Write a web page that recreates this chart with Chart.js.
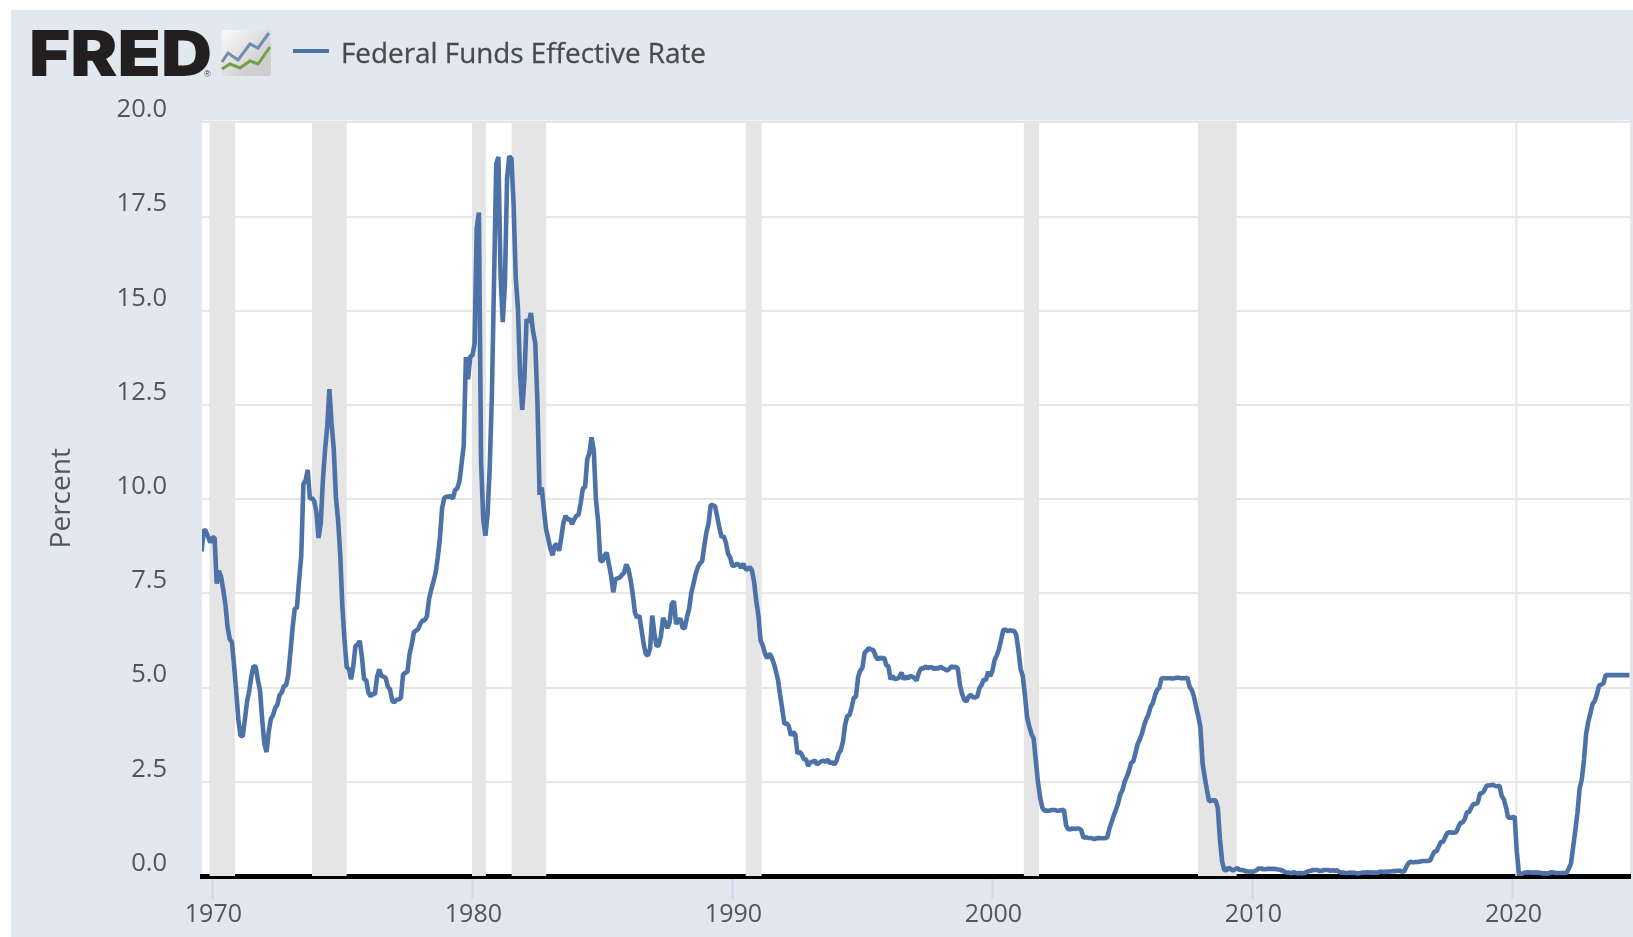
<!DOCTYPE html>
<html>
<head>
<meta charset="utf-8">
<title>Federal Funds Effective Rate</title>
<script src="https://cdn.jsdelivr.net/npm/chart.js@4/dist/chart.umd.min.js"></script>
<style>
html,body{margin:0;padding:0;background:#fff;width:1633px;height:937px;overflow:hidden}
#panel{position:absolute;left:11px;top:10px;width:1622px;height:927px;background:#e1e8f0}
#wrap{position:absolute;left:0;top:0;width:1633px;height:937px}
#logo{position:absolute;left:0;top:0}
#legendLine{position:absolute;left:293px;top:49px;width:36px;height:4px;background:#4c72a8}
#legendText{position:absolute;left:341px;top:33px;font:400 27.85px/38px "Open Sans",sans-serif;color:#4a4a4a;white-space:nowrap;-webkit-text-stroke:0.3px #4a4a4a}
</style>
</head>
<body>
<div id="panel"></div>
<div id="wrap"><canvas id="c" width="1633" height="937"></canvas></div>
<svg id="logo" width="300" height="100" xmlns="http://www.w3.org/2000/svg">
  <defs><linearGradient id="g" x1="0" y1="0" x2="1" y2="1"><stop offset="0" stop-color="#fbfbfb"/><stop offset="0.75" stop-color="#cfcfcf"/><stop offset="1" stop-color="#cdcdcd"/></linearGradient></defs>
  <text x="29" y="76" font-family="Inter" font-weight="900" font-size="63" textLength="183" lengthAdjust="spacingAndGlyphs" fill="#231f20">FRED</text>
  <text x="204" y="77" font-family="Liberation Sans" font-size="9" fill="#444">®</text>
  <rect x="221.5" y="30" width="49.5" height="46" rx="3" fill="url(#g)"/>
  <polyline points="222,62 228,53 238,60 250,44 258,48 269,33" fill="none" stroke="#6b8fb0" stroke-width="3"/>
  <polyline points="222,69 230,64 240,68 250,61 258,64 270,47" fill="none" stroke="#72a04a" stroke-width="3"/>
</svg>
<div id="legendLine"></div>
<div id="legendText">Federal Funds Effective Rate</div>
<script>
const seriesName = "Federal Funds Effective Rate";
const yTickValues = [0, 2.5, 5, 7.5, 10, 12.5, 15, 17.5, 20];
const xTickYears = [1970, 1980, 1990, 2000, 2010, 2020];
const recessionStarts = [1969.88, 1973.83, 1979.98, 1981.5, 1990.5, 2001.2, 2007.9];
const recessionEnds   = [1970.87, 1975.17, 1980.52, 1982.85, 1991.13, 2001.8, 2009.4];
const firstYear = 1969, firstMonth = 7; // August 1969, zero-based month
const rates = [
 8.61,9.19,9.15,9.00,8.85,
 8.98,8.98,7.76,8.10,7.94,7.60,7.21,6.61,6.29,6.20,5.60,4.90,
 4.14,3.72,3.71,4.16,4.63,4.91,5.31,5.57,5.55,5.20,4.91,4.14,
 3.50,3.29,3.83,4.17,4.27,4.46,4.55,4.80,4.87,5.04,5.06,5.33,
 5.94,6.58,7.09,7.12,7.84,8.49,10.40,10.50,10.78,10.01,10.03,9.95,
 9.65,8.97,9.35,10.51,11.31,11.93,12.92,12.01,11.34,10.06,9.45,8.53,
 7.13,6.24,5.54,5.49,5.22,5.55,6.10,6.14,6.24,5.82,5.22,5.20,
 4.87,4.77,4.84,4.82,5.29,5.48,5.31,5.29,5.25,5.02,4.95,4.65,
 4.61,4.68,4.69,4.73,5.35,5.39,5.42,5.90,6.14,6.47,6.51,6.56,
 6.70,6.78,6.79,6.89,7.36,7.60,7.81,8.04,8.45,8.96,9.76,10.03,
 10.07,10.06,10.09,10.01,10.24,10.29,10.47,10.94,11.43,13.77,13.18,13.78,
 13.82,14.13,17.19,17.61,10.98,9.47,9.03,9.61,10.87,12.81,15.85,18.90,
 19.08,15.93,14.70,15.72,18.52,19.10,19.04,17.82,15.87,15.08,13.31,12.37,
 13.22,14.78,14.68,14.94,14.45,14.15,12.59,10.12,10.31,9.71,9.20,8.95,
 8.68,8.51,8.77,8.80,8.63,8.98,9.37,9.56,9.45,9.48,9.34,9.47,
 9.56,9.59,9.91,10.29,10.32,11.06,11.23,11.64,11.30,9.99,9.43,8.38,
 8.35,8.50,8.58,8.27,7.97,7.53,7.88,7.90,7.92,7.99,8.05,8.27,
 8.14,7.86,7.48,6.99,6.85,6.92,6.56,6.17,5.89,5.85,6.04,6.91,
 6.43,6.10,6.13,6.37,6.85,6.73,6.58,6.73,7.22,7.29,6.69,6.77,
 6.83,6.58,6.58,6.87,7.09,7.51,7.75,8.01,8.19,8.30,8.35,8.76,
 9.12,9.36,9.85,9.84,9.81,9.53,9.24,8.99,9.02,8.84,8.55,8.45,
 8.23,8.24,8.28,8.26,8.18,8.29,8.15,8.13,8.20,8.11,7.81,7.31,
 6.91,6.25,6.12,5.91,5.78,5.90,5.82,5.66,5.45,5.21,4.81,4.43,
 4.03,4.06,3.98,3.73,3.82,3.76,3.25,3.30,3.22,3.10,3.09,2.92,
 3.02,3.03,3.07,2.96,3.00,3.04,3.06,3.03,3.09,2.99,3.02,2.96,
 3.05,3.25,3.34,3.56,4.01,4.25,4.26,4.47,4.73,4.76,5.29,5.45,
 5.53,5.92,5.98,6.05,6.01,6.00,5.85,5.74,5.80,5.76,5.80,5.60,
 5.56,5.22,5.31,5.22,5.24,5.27,5.40,5.22,5.30,5.24,5.31,5.29,
 5.25,5.19,5.39,5.51,5.50,5.56,5.52,5.54,5.54,5.50,5.52,5.50,
 5.56,5.51,5.49,5.45,5.49,5.56,5.54,5.55,5.51,5.07,4.83,4.68,
 4.63,4.76,4.81,4.74,4.74,4.76,4.99,5.07,5.22,5.20,5.42,5.30,
 5.45,5.73,5.85,6.02,6.27,6.53,6.54,6.50,6.52,6.51,6.51,6.40,
 5.98,5.49,5.31,4.80,4.21,3.97,3.77,3.65,3.07,2.49,2.09,1.82,
 1.73,1.74,1.73,1.75,1.75,1.75,1.73,1.74,1.75,1.75,1.34,1.24,
 1.24,1.26,1.25,1.26,1.26,1.22,1.01,1.03,1.01,1.01,1.00,0.98,
 1.00,1.01,1.00,1.00,1.00,1.03,1.26,1.43,1.61,1.76,1.93,2.16,
 2.28,2.50,2.63,2.79,3.00,3.04,3.26,3.50,3.62,3.78,4.00,4.16,
 4.29,4.49,4.59,4.79,4.94,4.99,5.24,5.25,5.25,5.25,5.25,5.24,
 5.25,5.26,5.26,5.25,5.25,5.25,5.26,5.02,4.94,4.76,4.49,4.24,
 3.94,2.98,2.61,2.28,1.98,2.00,2.01,2.00,1.81,0.97,0.39,0.16,
 0.15,0.22,0.18,0.15,0.18,0.21,0.16,0.16,0.15,0.12,0.12,0.12,
 0.11,0.13,0.16,0.20,0.20,0.18,0.18,0.19,0.19,0.19,0.19,0.18,
 0.17,0.16,0.14,0.10,0.09,0.09,0.07,0.10,0.08,0.07,0.08,0.07,
 0.08,0.10,0.13,0.14,0.16,0.16,0.16,0.13,0.14,0.16,0.16,0.16,
 0.14,0.15,0.14,0.15,0.11,0.09,0.09,0.08,0.08,0.09,0.08,0.09,
 0.07,0.07,0.08,0.09,0.09,0.10,0.09,0.09,0.09,0.09,0.09,0.12,
 0.11,0.11,0.11,0.12,0.12,0.13,0.13,0.14,0.14,0.12,0.12,0.24,
 0.34,0.38,0.36,0.37,0.37,0.38,0.39,0.40,0.40,0.40,0.41,0.54,
 0.65,0.66,0.79,0.90,0.91,1.04,1.15,1.16,1.15,1.15,1.16,1.30,
 1.41,1.42,1.51,1.69,1.70,1.82,1.91,1.91,1.95,2.19,2.20,2.27,
 2.40,2.40,2.41,2.42,2.39,2.38,2.40,2.13,2.04,1.83,1.55,1.55,
 1.55,1.58,0.65,0.05,0.05,0.08,0.09,0.10,0.09,0.09,0.09,0.09,
 0.09,0.08,0.07,0.07,0.06,0.08,0.10,0.09,0.08,0.08,0.08,0.08,
 0.08,0.08,0.20,0.33,0.77,1.21,1.68,2.33,2.56,3.08,3.78,4.10,
 4.33,4.57,4.65,4.83,5.06,5.08,5.12,5.33,5.33,5.33,5.33,5.33,
 5.33,5.33,5.33,5.33,5.33,5.33,5.33
];

const ratePoints = rates.map((v, i) => ({ x: firstYear + (firstMonth + i) / 12, y: v }));

const recessionSets = recessionStarts.map((s, i) => ({
  type: 'line', label: 'Recession', order: 3,
  data: [{x: s, y: 20.05}, {x: recessionEnds[i], y: 20.05}],
  borderWidth: 0, pointRadius: 0, backgroundColor: '#e5e5e5', fill: 'origin', tension: 0
}));

const gridLine2020 = {
  type: 'line', label: 'Grid 2020', order: 4,
  data: [{x: 2020.15, y: 0}, {x: 2020.15, y: 20.05}],
  borderColor: '#e6e6e6', borderWidth: 2, pointRadius: 0, fill: false
};

const plotBackground = {
  id: 'plotBackground',
  beforeDraw(chart) {
    const a = chart.chartArea, c = chart.ctx;
    c.save(); c.fillStyle = '#ffffff';
    c.fillRect(a.left, a.top, a.right - a.left, a.bottom - a.top);
    c.restore();
  }
};

new Chart(document.getElementById('c'), {
  type: 'line',
  plugins: [plotBackground],
  data: { datasets: [
    { label: seriesName, order: 1, data: ratePoints, borderColor: '#4c72a8', borderWidth: 4.6,
      pointRadius: 0, fill: false, tension: 0, borderJoinStyle: 'bevel' },
    gridLine2020,
    ...recessionSets
  ]},
  options: {
    responsive: false, animation: false, events: [],
    layout: { padding: { top: 120.5, right: 3, left: 0, bottom: 0 } },
    plugins: { legend: { display: false }, tooltip: { enabled: false }, title: { display: false } },
    scales: {
      x: {
        type: 'linear', min: 1969.6, max: 2024.52,
        afterFit(s) { s.height = 61; },
        afterBuildTicks(s) { s.ticks = xTickYears.map(v => ({ value: v })); },
        grid: { drawOnChartArea: false, drawTicks: true, tickLength: 23, tickColor: '#ccd6eb', tickWidth: 2 },
        border: { display: true, color: '#000000', width: 5 },
        ticks: {
          autoSkip: false, maxRotation: 0, padding: 1, labelOffset: 1, color: '#555555',
          font: { family: '"Open Sans"', size: 25 },
          callback: v => String(v)
        }
      },
      y: {
        min: 0, max: 20.05,
        afterFit(s) { s.width = 202; },
        afterBuildTicks(s) { s.ticks = yTickValues.map(v => ({ value: v })); },
        grid: { color: '#e6e6e6', lineWidth: 2, drawTicks: false, tickLength: 0 },
        border: { display: false },
        title: { display: true, text: 'Percent', color: '#555555',
                 font: { family: '"Open Sans"', size: 28 }, padding: { top: 45, bottom: 0 } },
        ticks: {
          padding: 35, labelOffset: -12.5, color: '#555555',
          font: { family: '"Open Sans"', size: 25.5 },
          callback: v => v.toFixed(1)
        }
      }
    }
  }
});
</script>
</body>
</html>
